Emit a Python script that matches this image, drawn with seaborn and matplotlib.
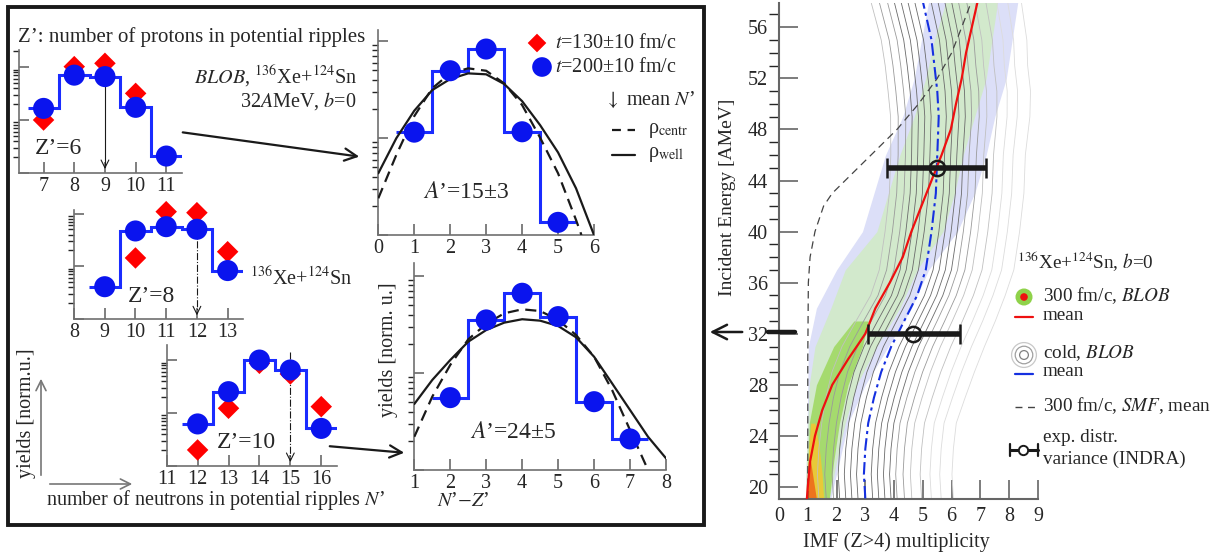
import numpy as np
import pandas as pd
import seaborn as sns
import matplotlib.pyplot as plt
from matplotlib.ticker import LogLocator, NullFormatter, MultipleLocator
from matplotlib.patches import Rectangle

W, H = 1217, 552

# ---- yields vs N' for Z'=6, 8, 10 (norm. u., log scale)
nA = [7, 8, 9, 10, 11]
blueA = [16.6, 71.0, 66.6, 17.4, 2.07]
nA_red = [7, 8, 9, 10]
redA = [10.0, 103.0, 119.0, 32.0]

nB = [9, 10, 11, 12, 13]
blueB = [4.1, 46.8, 56.5, 50.4, 8.3]
nB_red = [10, 11, 12, 13]
redB = [14.4, 108.7, 104.0, 18.9]

nC = [12, 13, 14, 15, 16]
blueC = [6.2, 25.4, 101.0, 65.5, 5.1]
redC = [1.99, 12.3, 87.7, 55.0, 13.2]

mean_N = [9, 12, 15]
mean_top = [66, 50, 146]

# ---- yields vs N'-Z' for A'=15 and A'=24
nzD = [1, 2, 3, 4, 5]
blueD = [11.5, 49.4, 82.7, 11.6, 1.35]
nzD_well = [0, 0.5, 1, 1.5, 2, 2.5, 3, 3.5, 4, 4.5, 5, 5.5, 6]
wellD = [4.33, 9.93, 19.1, 31.2, 40.6, 46.4, 45.4, 36.1, 24.0, 13.6, 7.1, 3.03, 1.0]
nzD_centr = [0, 0.5, 1, 1.5, 2, 2.5, 3, 3.5, 4, 4.5, 5, 5.5, 5.65]
centrD = [2.39, 6.68, 16.8, 32.6, 46.4, 52.3, 49.4, 36.6, 21.9, 10.1, 4.33, 1.43, 1.0]

nzE = [2, 3, 4, 5, 6, 7]
blueE = [5.57, 35.2, 66.3, 38.1, 5.06, 2.09]
nzE_well = [1, 1.5, 2, 2.5, 3, 3.5, 4, 4.5, 5, 5.5, 6, 6.5, 7, 7.5, 8]
wellE = [4.79, 8.47, 13.6, 21.0, 27.7, 33.0, 35.8, 34.6, 30.5, 23.3, 14.7, 7.82, 4.15, 2.2, 1.32]
nzE_centr = [1, 1.5, 2, 2.5, 3, 3.5, 4, 4.5, 5, 5.5, 6, 6.5, 7, 7.5]
centrE = [2.2, 5.7, 12.1, 22.2, 32.0, 41.2, 45.3, 43.5, 35.2, 24.6, 14.7, 6.68, 2.58, 1.0]

# ---- IMF multiplicity vs incident energy
E_red = [19.1, 20, 22, 24, 26, 28, 30, 32, 34, 36, 38, 40, 42, 44, 46, 48, 50, 52, 54, 56, 58]
x_red = [0.97, 1.0, 1.08, 1.25, 1.5, 1.85, 2.4, 3.0, 3.35, 3.85, 4.3, 4.6, 4.95, 5.3, 5.65,
         5.97, 6.15, 6.35, 6.5, 6.7, 6.9]

E_blue = [19.1, 21, 23, 25, 27, 29, 31, 33, 35, 37, 40, 43, 46, 49, 51, 53, 55, 58]
x_blue = [3.0, 2.95, 3.0, 3.1, 3.3, 3.55, 3.9, 4.35, 4.8, 5.1, 5.3, 5.45, 5.5, 5.55, 5.5, 5.4, 5.3, 5.0]
cold_width = [0.85, 0.85, 0.85, 0.85, 0.88, 0.9, 0.9, 0.88, 0.85, 0.85, 0.85, 0.85, 0.85, 0.88,
              0.9, 0.9, 0.92, 0.95]
cold_off = [-1.9, -1.6, -1.3, -1.05, -0.8, -0.55, -0.3, 0.3, 0.55, 0.8, 1.05, 1.3, 1.6, 1.9,
            2.3, 2.7, 3.1, 3.6]

E_smf = [19.1, 30, 36, 38, 40, 41, 42, 43, 44, 46, 48, 50, 52, 54, 56, 58.1]
x_smf = [1.0, 1.0, 1.02, 1.08, 1.25, 1.4, 1.55, 1.85, 2.3, 3.2, 4.1, 4.85, 5.5, 6.0, 6.35, 6.7]

E_band = [19.1, 22, 25, 28, 31, 34, 37, 40, 43, 46, 49, 52, 55, 58]
blue_lo = [0.92, 0.95, 0.98, 1.0, 1.02, 1.3, 2.0, 2.9, 3.3, 3.7, 4.3, 4.7, 4.95, 5.2]
blue_hi = [1.8, 2.1, 2.4, 3.0, 3.8, 4.6, 5.2, 6.2, 6.8, 7.2, 7.5, 7.9, 8.1, 8.3]
green_lo = [0.92, 0.95, 1.0, 1.05, 1.25, 1.8, 2.3, 3.4, 3.8, 4.2, 4.7, 5.1, 5.4, 5.8]
green_hi = [1.75, 2.0, 2.3, 2.7, 3.4, 4.2, 4.8, 5.7, 6.1, 6.4, 6.8, 7.2, 7.4, 7.6]
E_core = [19.1, 22, 25, 28, 31, 33]
core_lo = [0.95, 1.0, 1.05, 1.3, 1.9, 2.6]
core_hi = [1.75, 1.9, 2.1, 2.4, 2.9, 3.1]
E_yel = [19.1, 21, 23, 25]
yel_lo = [0.97, 1.0, 1.03, 1.1]
yel_hi = [1.55, 1.5, 1.4, 1.25]
E_org = [19.1, 20.5, 22]
org_lo = [0.98, 1.0, 1.02]
org_hi = [1.3, 1.2, 1.1]

exp_E = [45, 32]
exp_x = [5.48, 4.67]
exp_lo = [3.77, 3.08]
exp_hi = [7.19, 6.28]

sns.set_theme(style='ticks')
plt.rcParams['font.family'] = ['Liberation Serif', 'DejaVu Serif']
plt.rcParams['mathtext.fontset'] = 'stix'
plt.rcParams['font.size'] = 14

fig = plt.figure(figsize=(W / 100, H / 100), dpi=100)


def px_axes(x0, x1, y0, y1):
    return fig.add_axes([x0 / W, 1 - y1 / H, (x1 - x0) / W, (y1 - y0) / H])


def small_panel(ax, xlim, xticks, ylim):
    ax.set_yscale('log')
    ax.set_xlim(*xlim)
    ax.set_ylim(*ylim)
    ax.set_xticks(xticks)
    ax.yaxis.set_major_locator(LogLocator(base=10))
    ax.yaxis.set_minor_locator(LogLocator(base=10, subs=np.arange(2, 10)))
    ax.yaxis.set_major_formatter(NullFormatter())
    ax.yaxis.set_minor_formatter(NullFormatter())
    sns.despine(ax=ax)
    for s in ['left', 'bottom']:
        ax.spines[s].set_color('#707070')
        ax.spines[s].set_linewidth(1.2)
    ax.tick_params(direction='in', color='#707070', labelsize=14.5, pad=3)
    ax.tick_params(axis='y', which='major', length=7)
    ax.tick_params(axis='y', which='minor', length=4)
    ax.tick_params(axis='x', length=8)
    ax.patch.set_alpha(0)
    ax.set_xlabel('')
    ax.set_ylabel('')


def edges(n):
    return list(np.array(n) - 0.5) + [n[-1] + 0.5]


# ---- left box: three Z' panels
panels = [
    (px_axes(19, 181.7, 50, 172.7), nA, blueA, nA_red, redA, (6.2, 11.5), range(7, 12), 213),
    (px_axes(74, 243, 210, 319), nB, blueB, nB_red, redB, (8, 13.5), range(8, 14), 117),
    (px_axes(166.7, 336.7, 345, 465.7), nC, blueC, nC, redC, (11, 16.5), range(11, 17), 195),
]
for i, (ax, nb, yb, nr, yr, xl, xt, ytop) in enumerate(panels):
    ax.stairs(yb, edges(nb), baseline=None, color='#1a2cff', lw=2.2, zorder=2)
    sns.scatterplot(x=nr, y=yr, marker='D', color='red', s=120, edgecolor='none', ax=ax, zorder=3,
                    clip_on=False)
    sns.scatterplot(x=nb, y=yb, marker='o', color='#0a14ee', s=230, edgecolor='none', ax=ax, zorder=4,
                    clip_on=False)
    m = mean_N[i]
    ax.plot([m, m], [mean_top[i], 1.3], ls='-' if i == 0 else '-.', color='k', lw=0.8, zorder=1)
    ax.annotate('', xy=(m, 1.04), xytext=(m, 1.5),
                arrowprops=dict(arrowstyle='->', color='k', lw=0.8, mutation_scale=14))
    small_panel(ax, xl, xt, (1, ytop))

# ---- A' panels
for ax, nz, yb, nw, yw, nc, yc, xl, xt, ytop in [
    (px_axes(378.3, 594, 30, 235), nzD, blueD, nzD_well, wellD, nzD_centr, centrD, (0, 6), range(0, 7), 130),
    (px_axes(414.3, 666, 263.3, 470), nzE, blueE, nzE_well, wellE, nzE_centr, centrE, (1, 8), range(1, 9), 135),
]:
    ax.stairs(yb, edges(nz), baseline=None, color='#1a2cff', lw=2.2, zorder=2)
    sns.lineplot(x=nw, y=yw, color='k', lw=1.6, estimator=None, sort=False, ax=ax, zorder=3)
    sns.lineplot(x=nc, y=yc, color='k', lw=1.6, estimator=None, sort=False, ax=ax, zorder=3,
                 dashes=False, linestyle=(0, (5, 3)))
    sns.scatterplot(x=nz, y=yb, marker='o', color='#0a14ee', s=230, edgecolor='none', ax=ax, zorder=4)
    small_panel(ax, xl, xt, (1, ytop))

# ---- right panel
axR = px_axes(779, 1038, 3, 499)
axR.fill_betweenx(E_band, blue_lo, blue_hi, color='#dcdff8', lw=0, zorder=1)
axR.fill_betweenx(E_band, green_lo, green_hi, color='#d2e9cc', lw=0, zorder=1)
axR.fill_betweenx(E_core, core_lo, core_hi, color='#9ed85e', lw=0, alpha=0.85, zorder=1)
axR.fill_betweenx(E_yel, yel_lo, yel_hi, color='#f0c832', lw=0, alpha=0.9, zorder=1)
axR.fill_betweenx(E_org, org_lo, org_hi, color='#ee6a1a', lw=0, alpha=0.9, zorder=1)

rows = []
for k, off in enumerate(cold_off):
    for e, xb, wd in zip(E_blue, x_blue, cold_width):
        rows.append({'line': k, 'E': e, 'x': xb + off * wd})
cold = pd.DataFrame(rows)
shades = []
for off in cold_off:
    a = abs(off)
    shades.append('#6a6a6a' if a < 1.1 else ('#9a9a9a' if a < 1.7 else ('#c0c0c0' if a < 2.4 else '#dcdcdc')))
sns.lineplot(data=cold, x='x', y='E', units='line', hue='line', palette=shades, estimator=None,
             sort=False, lw=0.6, legend=False, ax=axR, zorder=2)

sns.lineplot(x=x_smf, y=E_smf, color='#444444', lw=0.9, estimator=None, sort=False, ax=axR,
             zorder=3, dashes=False, linestyle=(0, (6, 4)))
sns.lineplot(x=x_blue, y=E_blue, color='#1530e0', lw=1.5, estimator=None, sort=False, ax=axR,
             zorder=4, dashes=False, linestyle=(0, (6, 2, 1.5, 2)))
sns.lineplot(x=x_red, y=E_red, color='#ee1010', lw=1.6, estimator=None, sort=False, ax=axR, zorder=5)

ex = np.array(exp_x)
axR.errorbar(exp_x, exp_E, xerr=[ex - np.array(exp_lo), np.array(exp_hi) - ex], fmt='o',
             mfc='none', mec='k', mew=1.8, ms=11, ecolor='k', elinewidth=4, capsize=7,
             capthick=2, zorder=6)

axR.set_xlim(0, 9)
axR.set_ylim(19.06, 57.9)
axR.set_xticks(range(0, 10))
axR.set_yticks(range(20, 57, 4))
axR.yaxis.set_minor_locator(MultipleLocator(1))
sns.despine(ax=axR)
for s in ['left', 'bottom']:
    axR.spines[s].set_color('#666666')
    axR.spines[s].set_linewidth(1.5)
axR.tick_params(direction='in', color='#666666', labelsize=14.5)
axR.tick_params(which='major', length=14, width=1.2)
axR.tick_params(which='minor', length=7, width=1.0)
axR.tick_params(axis='x', pad=6)
axR.tick_params(axis='y', pad=8)
axR.set_xlabel('')
axR.set_ylabel('')
axR.patch.set_alpha(0)

# ---- overlay: box, arrows, labels, legends
ov = fig.add_axes([0, 0, 1, 1])
ov.set_xlim(0, W)
ov.set_ylim(H, 0)
ov.axis('off')
ov.patch.set_alpha(0)

ov.add_patch(Rectangle((8, 7), 696, 518, fill=False, ec='k', lw=2.8))

arrow = dict(arrowstyle='->', color='k', lw=1.6, mutation_scale=22)
ov.annotate('', xy=(362, 157), xytext=(180, 132), arrowprops=arrow)
ov.annotate('', xy=(407, 453), xytext=(327, 446), arrowprops=arrow)
ov.annotate('', xy=(707, 332), xytext=(745, 332), arrowprops=dict(arrowstyle='->', color='k', lw=1.8,
                                                                   mutation_scale=26))
ov.plot([768, 795], [332, 332], color='k', lw=3.2)
gray_arrow = dict(arrowstyle='->', color='#777777', lw=1.2, mutation_scale=18)
ov.annotate('', xy=(41, 376), xytext=(41, 478), arrowprops=gray_arrow)
ov.annotate('', xy=(135, 484), xytext=(47, 484), arrowprops=gray_arrow)

fs = 14.5
ov.text(18, 37, 'Z’: number of protons in potential ripples', fontsize=15, va='center', ha='left')
ov.text(357, 77, r'$\mathit{BLOB}$, $^{136}$Xe+$^{124}$Sn', fontsize=fs, va='center', ha='right')
ov.text(357, 101, r'32$\mathit{A}$MeV, $\mathit{b}$=0', fontsize=fs, va='center', ha='right')
ov.text(35, 148, 'Z’=6', fontsize=17, va='center', ha='left')
ov.text(128, 296, 'Z’=8', fontsize=17, va='center', ha='left')
ov.text(217, 442, 'Z’=10', fontsize=17, va='center', ha='left')
ov.text(250, 278, r'$^{136}$Xe+$^{124}$Sn', fontsize=fs, va='center', ha='left')
ov.text(423, 192, r'$\mathit{A}$’=15±3', fontsize=17, va='center', ha='left')
ov.text(470, 432, r'$\mathit{A}$’=24±5', fontsize=17, va='center', ha='left')
ov.text(27, 413, 'yields [norm.u.]', fontsize=fs, va='center', ha='center', rotation=90)
ov.text(46, 500, r'number of neutrons in potential ripples $\mathit{N}$’', fontsize=fs, va='center',
        ha='left')
ov.text(388, 350, 'yields [norm. u.]', fontsize=fs, va='center', ha='center', rotation=90)
ov.text(463, 502, r'$\mathit{N}$’$-$$\mathit{Z}$’', fontsize=fs, va='center', ha='center')

ov.scatter([537], [43], marker='D', color='red', s=90, edgecolor='none')
ov.scatter([542], [67], marker='o', color='#0a14ee', s=200, edgecolor='none')
ov.text(555, 43, r'$t$=130±10 fm/c', fontsize=fs, va='center', ha='left')
ov.text(555, 67, r'$t$=200±10 fm/c', fontsize=fs, va='center', ha='left')
ov.text(605, 100, r'$\downarrow$ mean $\mathit{N}$’', fontsize=fs, va='center', ha='left')
ov.plot([612, 635], [130, 130], color='k', lw=1.6, ls=(0, (4, 3)))
ov.plot([612, 635], [155, 155], color='k', lw=1.6)
ov.text(648, 130, r'ρ$_{\rm centr}$', fontsize=fs, va='center', ha='left')
ov.text(648, 155, r'ρ$_{\rm well}$', fontsize=fs, va='center', ha='left')

ov.text(728, 197, 'Incident Energy [AMeV]', fontsize=14, va='center', ha='center', rotation=90)
ov.text(896, 542, 'IMF (Z>4) multiplicity', fontsize=fs, va='center', ha='center')

lfs = 13.8
ov.text(1017, 262, r'$^{136}$Xe+$^{124}$Sn, $\mathit{b}$=0', fontsize=lfs, va='center', ha='left')
ov.scatter([1024], [297], s=150, color='#8fd24a', edgecolor='none')
ov.scatter([1024], [297], s=30, color='#ee1010', edgecolor='none')
ov.text(1043, 296, r'300 fm/c, $\mathit{BLOB}$', fontsize=lfs, va='center', ha='left')
ov.plot([1015, 1033], [317, 317], color='#ee1010', lw=1.6)
ov.text(1043, 315, 'mean', fontsize=lfs, va='center', ha='left')
for sz, c in [(320, '#c8c8c8'), (160, '#a0a0a0'), (40, '#808080')]:
    ov.scatter([1024], [355], s=sz, facecolor='none', edgecolor=c, lw=0.9)
ov.text(1043, 353, r'cold, $\mathit{BLOB}$', fontsize=lfs, va='center', ha='left')
ov.plot([1015, 1033], [374, 374], color='#1530e0', lw=1.6)
ov.text(1043, 372, 'mean', fontsize=lfs, va='center', ha='left')
ov.plot([1015, 1035], [407, 407], color='#444444', lw=1.0, ls=(0, (5, 4)))
ov.text(1043, 406, r'300 fm/c, $\mathit{SMF}$, mean', fontsize=lfs, va='center', ha='left')
ov.plot([1010, 1038], [450, 450], color='k', lw=2.2)
ov.plot([1010, 1010], [444, 456], color='k', lw=1.6)
ov.plot([1038, 1038], [444, 456], color='k', lw=1.6)
ov.scatter([1023], [450], s=45, facecolor='white', edgecolor='k', lw=1.4, zorder=5)
ov.text(1043, 437, 'exp. distr.', fontsize=lfs, va='center', ha='left')
ov.text(1043, 459, 'variance (INDRA)', fontsize=lfs, va='center', ha='left')

fig.savefig('out.png', dpi=100)
